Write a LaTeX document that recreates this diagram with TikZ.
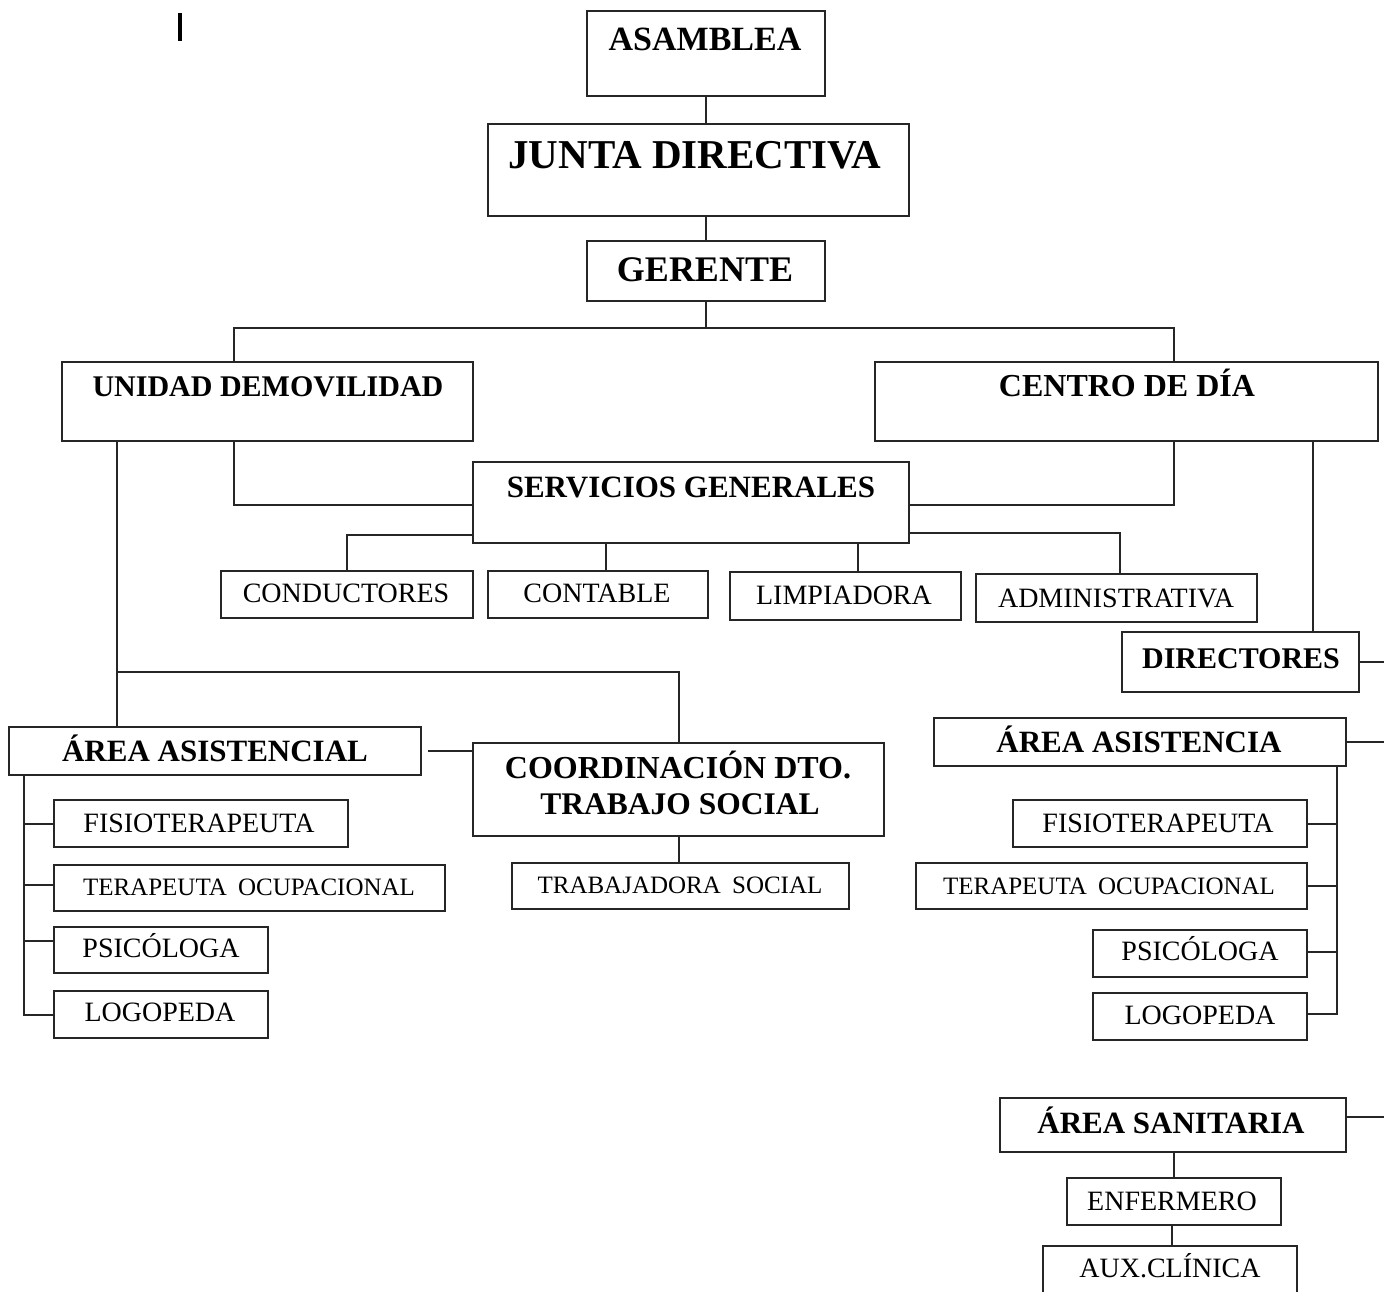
\documentclass[tikz,border=0pt]{standalone}
\usepackage{fontspec}
\setmainfont{Liberation Serif}
\newcommand\fsz[1]{\fontsize{#1}{#1}\selectfont}
\begin{document}
\begin{tikzpicture}[x=1pt,y=-1pt,
  box/.style={draw=black!85, line width=2pt, inner sep=0pt, minimum width=#1},
  txt/.style={anchor=base, inner sep=0pt, text=black},
  ln/.style={draw=black!85, line width=2pt}]
\useasboundingbox (0,0) rectangle (1384,1291);
\clip (0,0) rectangle (1384,1291);
\fill[white] (0,0) rectangle (1384,1291);
% cursor mark
\draw[line width=3.5pt] (180,13) -- (180,41);
% boxes
\node[box=238pt, minimum height=85pt] (asam) at (706,53.5) {};
\node[box=421pt, minimum height=92pt] (junta) at (698.5,170) {};
\node[box=238pt, minimum height=60pt] (ger) at (706,271) {};
\node[box=411pt, minimum height=79pt] (uni) at (267.5,401.5) {};
\node[box=503pt, minimum height=79pt] (cen) at (1126.5,401.5) {};
\node[box=436pt, minimum height=81pt] (sg) at (691,502.5) {};
\node[box=252pt, minimum height=47pt] (cond) at (347,594.5) {};
\node[box=220pt, minimum height=47pt] (cont) at (598,594.5) {};
\node[box=231pt, minimum height=48pt] (limp) at (845.5,596) {};
\node[box=281pt, minimum height=48pt] (adm) at (1116.5,598) {};
\node[box=237pt, minimum height=60pt] (dir) at (1240.5,662) {};
\node[box=412pt, minimum height=48pt] (aa) at (215,751) {};
\node[box=411pt, minimum height=93pt] (coord) at (678.5,789.5) {};
\node[box=337pt, minimum height=46pt] (ts) at (680.5,886) {};
\node[box=294pt, minimum height=47pt] (f1) at (201,823.5) {};
\node[box=391pt, minimum height=46pt] (t1) at (249.5,888) {};
\node[box=214pt, minimum height=46pt] (p1) at (161,950) {};
\node[box=214pt, minimum height=47pt] (l1) at (161,1014.5) {};
\node[box=412pt, minimum height=48pt] (ar) at (1140,742) {};
\node[box=294pt, minimum height=47pt] (f2) at (1160,823.5) {};
\node[box=391pt, minimum height=46pt] (t2) at (1111.5,886) {};
\node[box=214pt, minimum height=47pt] (p2) at (1200,953.5) {};
\node[box=214pt, minimum height=47pt] (l2) at (1200,1016.5) {};
\node[box=346pt, minimum height=54pt] (san) at (1173,1125) {};
\node[box=214pt, minimum height=47pt] (enf) at (1174,1201.5) {};
\node[box=254pt, minimum height=64pt] (aux) at (1170,1278) {};
% texts
\node[txt, font={\fsz{34}\bfseries}] (tasam) at (705,50) {ASAMBLEA};
\node[txt, font={\fsz{41}\bfseries}] (tjunta) at (695,168) {JUNTA DIRECTIVA};
\node[txt, font={\fsz{36}\bfseries}] (tger) at (705,281) {GERENTE};
\node[txt, font={\fsz{30}\bfseries}] (tuni) at (268,396) {UNIDAD DEMOVILIDAD};
\node[txt, font={\fsz{32}\bfseries}] (tcen) at (1127,396) {CENTRO DE DÍA};
\node[txt, font={\fsz{31}\bfseries}] (tsg) at (691,497) {SERVICIOS GENERALES};
\node[txt, font={\fsz{28}}] (tcond) at (346,602) {CONDUCTORES};
\node[txt, font={\fsz{28}}] (tcont) at (597,602) {CONTABLE};
\node[txt, font={\fsz{28}}] (tlimp) at (844,604) {LIMPIADORA};
\node[txt, font={\fsz{28}}] (tadm) at (1116,607) {ADMINISTRATIVA};
\node[txt, font={\fsz{30}\bfseries}] (tdir) at (1241,668) {DIRECTORES};
\node[txt, font={\fsz{31}\bfseries}] (taa) at (215,761) {ÁREA ASISTENCIAL};
\node[txt, font={\fsz{32}\bfseries}] (tco1) at (678,778) {COORDINACIÓN DTO.};
\node[txt, font={\fsz{31.5}\bfseries}] (tco2) at (680,814) {TRABAJO SOCIAL};
\node[txt, font={\fsz{25}}] (tts) at (680,893) {TRABAJADORA\hspace{0.45em}SOCIAL};
\node[txt, font={\fsz{28}}] (tf1) at (199,832) {FISIOTERAPEUTA};
\node[txt, font={\fsz{25}}] (tt1) at (249,895) {TERAPEUTA\hspace{0.45em}OCUPACIONAL};
\node[txt, font={\fsz{28}}] (tp1) at (161,957) {PSICÓLOGA};
\node[txt, font={\fsz{28}}] (tl1) at (160,1021) {LOGOPEDA};
\node[txt, font={\fsz{31}\bfseries}] (tar) at (1139,752) {ÁREA ASISTENCIA};
\node[txt, font={\fsz{28}}] (tf2) at (1158,832) {FISIOTERAPEUTA};
\node[txt, font={\fsz{25}}] (tt2) at (1109,894) {TERAPEUTA\hspace{0.45em}OCUPACIONAL};
\node[txt, font={\fsz{28}}] (tp2) at (1200,960) {PSICÓLOGA};
\node[txt, font={\fsz{28}}] (tl2) at (1200,1024) {LOGOPEDA};
\node[txt, font={\fsz{31}\bfseries}] (tsan) at (1171,1133) {ÁREA SANITARIA};
\node[txt, font={\fsz{28}}] (tenf) at (1172,1210) {ENFERMERO};
\node[txt, font={\fsz{28}}] (taux) at (1170,1277) {AUX.CLÍNICA};
% coordinates for free ends and junctions
\coordinate (hl) at (234,328);
\coordinate (hr) at (1174,328);
\coordinate (v1) at (117,672);
\coordinate (lx) at (24,775);
\coordinate (rx) at (1337,766);
\coordinate (e1) at (1384,662);
\coordinate (e2) at (1384,742);
\coordinate (e3) at (1384,1117);
% connectors
\draw[ln] (asam.south) -- (asam.south |- junta.north);
\draw[ln] (ger.north) -- (ger.north |- junta.south);
\draw[ln] (ger.south) -- (ger.south |- hl);
\draw[ln] (hl |- uni.north) -- (hl) -- (hr) -- (hr |- cen.north);
\draw[ln] (hl |- uni.south) |- ([yshift=-2.5pt]sg.west);
\draw[ln] (hr |- cen.south) |- ([yshift=-2.5pt]sg.east);
\draw[ln] ([yshift=9pt]sg.south west) -| (cond.north);
\draw[ln] ([xshift=8pt]cont.north) -- ([xshift=8pt]cont.north |- sg.south);
\draw[ln] ([xshift=12.5pt]limp.north) -- ([xshift=12.5pt]limp.north |- sg.south);
\draw[ln] ([yshift=11pt]sg.south east) -| ([xshift=3.5pt]adm.north);
\draw[ln] ([xshift=72.5pt]dir.north) -- ([xshift=72.5pt]dir.north |- cen.south);
\draw[ln] (dir.east) -- (e1);
\draw[ln] (ar.east) -- (e2);
\draw[ln] ([yshift=8pt]san.east) -- (e3);
\draw[ln] (v1 |- uni.south) -- (v1 |- aa.north);
\draw[ln] (v1) -| (coord.north);
\draw[ln] ([xshift=6pt]aa.east) -- (coord.west |- aa.east);
\draw[ln] (coord.south) -- (coord.south |- ts.north);
\draw[ln] (lx |- aa.south) |- ([yshift=-0.5pt]l1.west);
\draw[ln] (lx |- f1.west) -- (f1.west);
\draw[ln] ([yshift=3pt]lx |- t1.west) -- ([yshift=3pt]t1.west);
\draw[ln] ([yshift=9pt]lx |- p1.west) -- ([yshift=9pt]p1.west);
\draw[ln] (rx |- ar.south) |- ([yshift=2.5pt]l2.east);
\draw[ln] (rx |- f2.east) -- (f2.east);
\draw[ln] (rx |- t2.east) -- (t2.east);
\draw[ln] ([yshift=1.5pt]rx |- p2.east) -- ([yshift=1.5pt]p2.east);
\draw[ln] (san.south -| enf.north) -- (enf.north);
\draw[ln] ([xshift=-2pt]enf.south) -- ([xshift=-2pt]enf.south |- aux.north);
\end{tikzpicture}
\end{document}
